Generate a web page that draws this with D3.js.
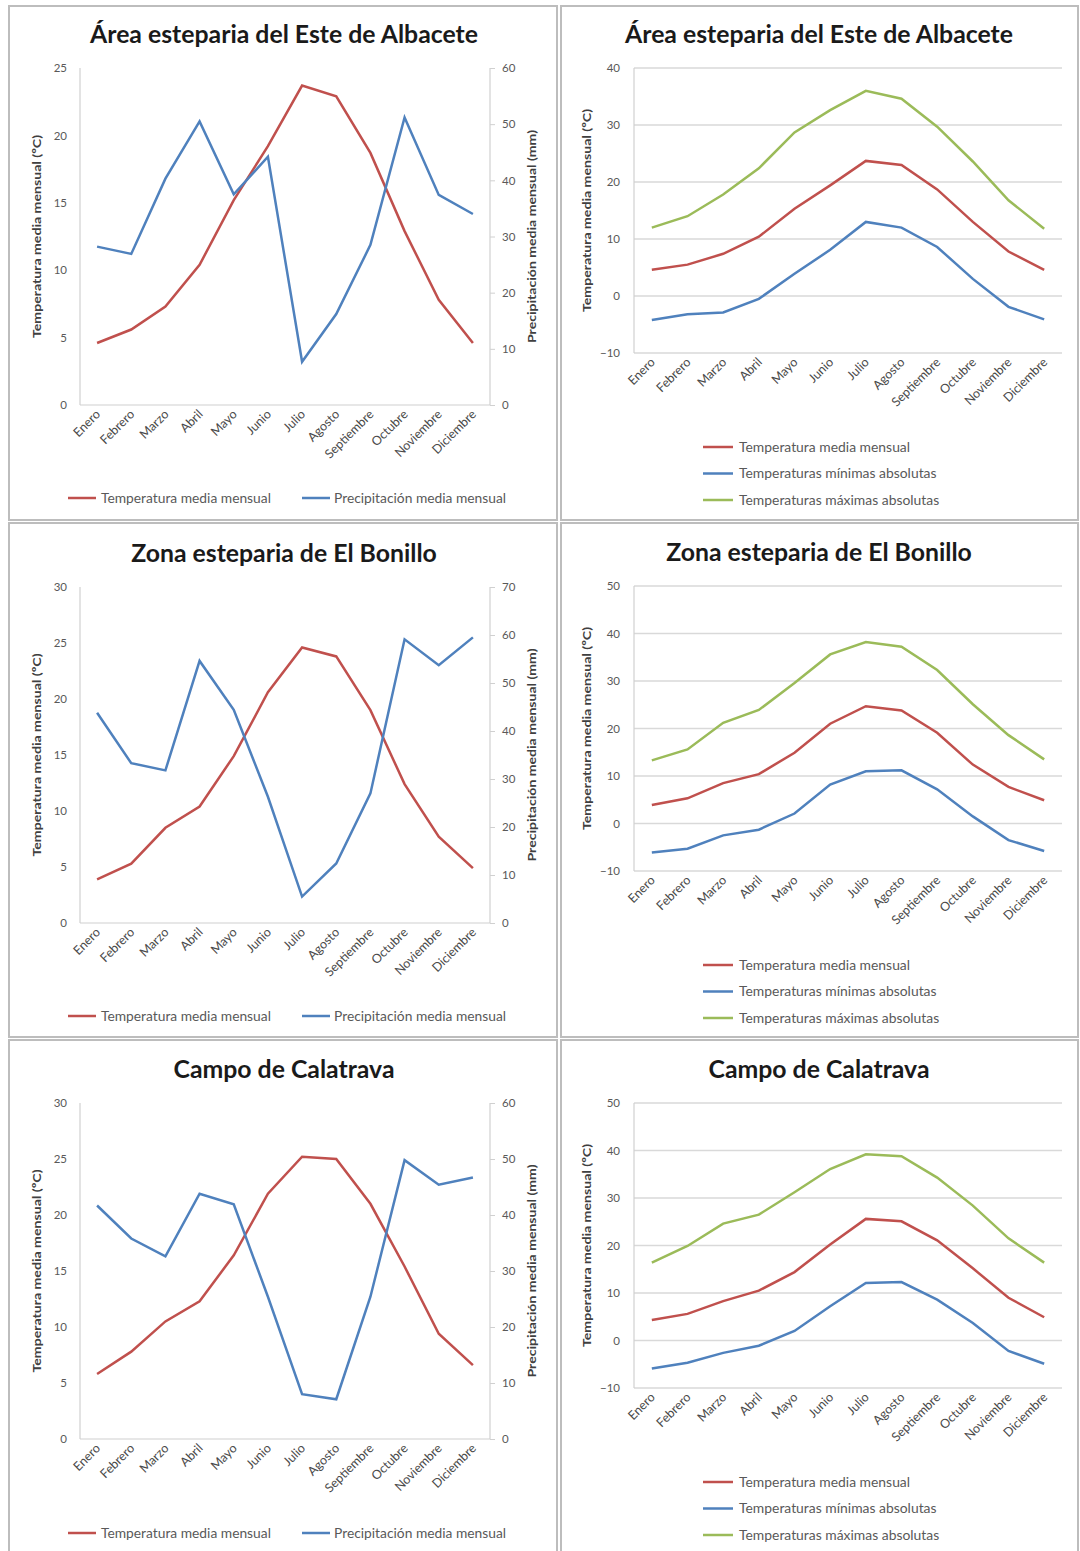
<!DOCTYPE html>
<html><head><meta charset="utf-8">
<script src="https://cdn.jsdelivr.net/npm/d3@7"></script>
<style>
html,body{margin:0;padding:0;background:#fff;}
svg{display:block;font-family:Lato,"Open Sans",sans-serif;}
</style></head>
<body>
<svg id="c" width="1080" height="1551"></svg>
<script>
const months = ["Enero","Febrero","Marzo","Abril","Mayo","Junio","Julio","Agosto","Septiembre","Octubre","Noviembre","Diciembre"];
const titles = ["Área esteparia del Este de Albacete","Zona esteparia de El Bonillo","Campo de Calatrava"];

const albTemp = [4.6,5.6,7.3,10.4,15.2,19.2,23.7,22.9,18.7,12.9,7.8,4.6];
const albPrec = [28.2,26.9,40.3,50.5,37.5,44.2,7.7,16.2,28.5,51.2,37.4,34.0];
const albMedia = [4.6,5.5,7.4,10.4,15.3,19.4,23.7,23.0,18.7,13.0,7.8,4.6];
const albMin = [-4.2,-3.2,-2.9,-0.5,3.9,8.1,13.0,12.0,8.6,3.0,-1.9,-4.1];
const albMax = [12.0,14.0,17.8,22.4,28.7,32.6,36.0,34.6,29.7,23.6,16.8,11.8];

const bonTemp = [3.9,5.3,8.5,10.4,14.9,20.6,24.6,23.8,19.0,12.4,7.7,4.9];
const bonPrec = [43.8,33.3,31.8,54.6,44.4,26.3,5.5,12.4,27.0,59.1,53.7,59.5];
const bonMedia = [3.9,5.3,8.5,10.4,14.9,21.0,24.7,23.8,19.1,12.4,7.7,4.9];
const bonMin = [-6.1,-5.3,-2.5,-1.3,2.1,8.2,11.0,11.2,7.2,1.5,-3.5,-5.8];
const bonMax = [13.3,15.6,21.2,23.9,29.6,35.6,38.2,37.2,32.3,25.1,18.6,13.5];

const calTemp = [5.8,7.8,10.5,12.3,16.4,21.9,25.2,25.0,21.0,15.4,9.4,6.6];
const calPrec = [41.7,35.8,32.6,43.8,41.9,25.4,8.0,7.1,25.4,49.8,45.4,46.7];
const calMedia = [4.3,5.6,8.3,10.5,14.4,20.2,25.6,25.1,21.1,15.2,9.0,4.9];
const calMin = [-5.9,-4.7,-2.6,-1.1,2.0,7.2,12.1,12.3,8.6,3.7,-2.2,-4.9];
const calMax = [16.4,19.9,24.6,26.5,31.2,36.1,39.2,38.8,34.3,28.4,21.5,16.4];

const leftTempTicks = [[0,5,10,15,20,25],[0,5,10,15,20,25,30],[0,5,10,15,20,25,30]];
const leftPrecTicks = [[0,10,20,30,40,50,60],[0,10,20,30,40,50,60,70],[0,10,20,30,40,50,60]];
const rightTicks = [[-10,0,10,20,30,40],[-10,0,10,20,30,40,50],[-10,0,10,20,30,40,50]];

const dualLegend = ["Temperatura media mensual","Precipitación media mensual"];
const triLegend = ["Temperatura media mensual","Temperaturas mínimas absolutas","Temperaturas máximas absolutas"];
const yLabelTemp = "Temperatura media mensual (ºC)";
const yLabelPrec = "Precipitación media mensual (mm)";

const RED="#c0504d", BLUE="#4f81bd", GREEN="#9bbb59";
const svg = d3.select("#c");

const rows = [{y:6,h:514},{y:523,h:514},{y:1040,h:520}];
rows.forEach(r=>{
  svg.append("rect").attr("x",9).attr("y",r.y).attr("width",548).attr("height",r.h)
    .attr("fill","#fff").attr("stroke","#bdbdbd").attr("stroke-width",2);
  svg.append("rect").attr("x",561).attr("y",r.y).attr("width",517).attr("height",r.h)
    .attr("fill","#fff").attr("stroke","#bdbdbd").attr("stroke-width",2);
});

function monthLabels(g, x, y0){
  g.selectAll("text.m").data(months).enter().append("text")
    .attr("transform",d=>`translate(${x(d)+4},${y0+10}) rotate(-45)`)
    .attr("text-anchor","end").attr("font-size",12.5).attr("fill","#4a4a4a").text(d=>d);
}

function vLabel(g, xx, cy, txt, len){
  g.append("text").attr("transform",`translate(${xx},${cy}) rotate(-90)`).attr("text-anchor","middle")
    .attr("font-size",12).attr("font-weight","bold").attr("fill","#404040")
    .attr("textLength",len).attr("lengthAdjust","spacingAndGlyphs").text(txt);
}

function drawDual(i, top, bottom, temp, prec, legendY){
  const g = svg.append("g");
  const L=80, R=490;
  const x = d3.scalePoint().domain(months).range([L,R]).padding(0.5);
  const tt = leftTempTicks[i], pt = leftPrecTicks[i];
  const yT = d3.scaleLinear().domain([0,tt[tt.length-1]]).range([bottom,top]);
  const yP = d3.scaleLinear().domain([0,pt[pt.length-1]]).range([bottom,top]);
  g.append("text").attr("x",284).attr("y",top-25).attr("text-anchor","middle")
    .attr("font-size",24.8).attr("font-weight","bold").attr("fill","#1a1a1a").text(titles[i]);
  g.append("line").attr("x1",L).attr("x2",L).attr("y1",top).attr("y2",bottom).attr("stroke","#d0d0d0").attr("stroke-width",1.2);
  g.append("line").attr("x1",R).attr("x2",R).attr("y1",top).attr("y2",bottom).attr("stroke","#d0d0d0").attr("stroke-width",1.2);
  g.append("line").attr("x1",L).attr("x2",R).attr("y1",bottom).attr("y2",bottom).attr("stroke","#d0d0d0").attr("stroke-width",1.2);
  const la = g.append("g").attr("transform",`translate(${L},0)`).call(d3.axisLeft(yT).tickValues(tt).tickSize(0).tickPadding(13));
  const ra = g.append("g").attr("transform",`translate(${R},0)`).call(d3.axisRight(yP).tickValues(pt).tickSize(5).tickPadding(7));
  [la,ra].forEach(a=>{a.select(".domain").remove();
    a.selectAll("text").attr("font-size",11.5).attr("fill","#595959").attr("font-family","Lato");
    a.selectAll("line").attr("stroke","#d0d0d0");});
  monthLabels(g, x, bottom);
  const cy=(top+bottom)/2;
  vLabel(g, 41, cy, yLabelTemp, 203);
  vLabel(g, 536, cy, yLabelPrec, 213);
  const lineT = d3.line().x((d,j)=>x(months[j])).y(d=>yT(d));
  const lineP = d3.line().x((d,j)=>x(months[j])).y(d=>yP(d));
  g.append("path").attr("d",lineT(temp)).attr("fill","none").attr("stroke",RED).attr("stroke-width",2.5);
  g.append("path").attr("d",lineP(prec)).attr("fill","none").attr("stroke",BLUE).attr("stroke-width",2.5);
  [[68,101,RED],[302,334,BLUE]].forEach((l,k)=>{
    g.append("line").attr("x1",l[0]).attr("x2",l[0]+28).attr("y1",legendY).attr("y2",legendY).attr("stroke",l[2]).attr("stroke-width",2.5);
    g.append("text").attr("x",l[1]).attr("y",legendY+4.5).attr("font-size",13.8).attr("fill","#595959").text(dualLegend[k]);
  });
}

function drawTri(i, top, bottom, media, mn, mx, legendY){
  const g = svg.append("g");
  const L=634, R=1062;
  const x = d3.scalePoint().domain(months).range([L,R]).padding(0.5);
  const t = rightTicks[i];
  const y = d3.scaleLinear().domain([t[0],t[t.length-1]]).range([bottom,top]);
  g.append("text").attr("x",819).attr("y",top-25).attr("text-anchor","middle")
    .attr("font-size",24.8).attr("font-weight","bold").attr("fill","#1a1a1a").text(titles[i]);
  g.selectAll("line.grid").data(t).enter().append("line")
    .attr("x1",L).attr("x2",R).attr("y1",d=>y(d)).attr("y2",d=>y(d)).attr("stroke","#d9d9d9").attr("stroke-width",1.3);
  g.append("line").attr("x1",L).attr("x2",L).attr("y1",top).attr("y2",bottom).attr("stroke","#d0d0d0").attr("stroke-width",1.2);
  const la = g.append("g").attr("transform",`translate(${L},0)`).call(d3.axisLeft(y).tickValues(t).tickSize(0).tickPadding(14));
  la.select(".domain").remove();
  la.selectAll("text").attr("font-size",11.5).attr("fill","#595959").attr("font-family","Lato");
  monthLabels(g, x, bottom);
  vLabel(g, 591, (top+bottom)/2, yLabelTemp, 203);
  const ln = d3.line().x((d,j)=>x(months[j])).y(d=>y(d));
  [[mx,GREEN],[mn,BLUE],[media,RED]].forEach(s=>{
    g.append("path").attr("d",ln(s[0])).attr("fill","none").attr("stroke",s[1]).attr("stroke-width",2.5);
  });
  [RED,BLUE,GREEN].forEach((c,k)=>{
    const yy = legendY + k*26.5;
    g.append("line").attr("x1",703).attr("x2",733).attr("y1",yy).attr("y2",yy).attr("stroke",c).attr("stroke-width",2.5);
    g.append("text").attr("x",739).attr("y",yy+4.5).attr("font-size",13.9).attr("fill","#595959").text(triLegend[k]);
  });
}

drawDual(0, 68, 405, albTemp, albPrec, 498);
drawDual(1, 587, 923, bonTemp, bonPrec, 1016);
drawDual(2, 1103, 1439, calTemp, calPrec, 1533);
drawTri(0, 68, 353, albMedia, albMin, albMax, 447);
drawTri(1, 586, 871, bonMedia, bonMin, bonMax, 965);
drawTri(2, 1103, 1388, calMedia, calMin, calMax, 1482);
</script>
</body></html>
